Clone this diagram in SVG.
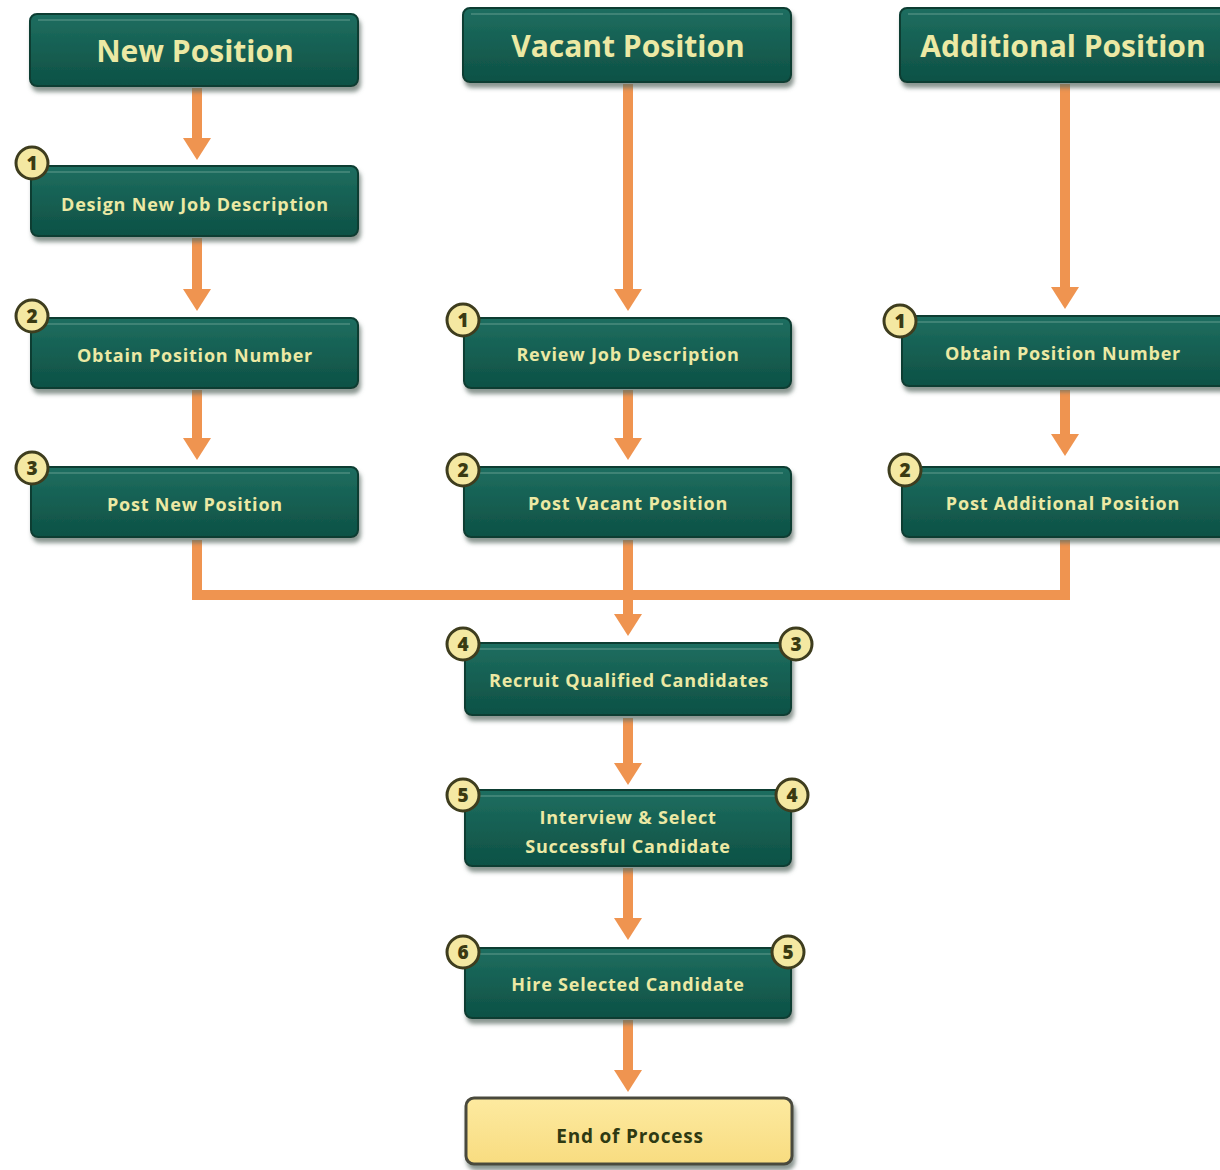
<svg xmlns="http://www.w3.org/2000/svg" width="1220" height="1170" viewBox="0 0 1220 1170">
  <defs>
    <linearGradient id="teal" x1="0" y1="0" x2="0" y2="1">
      <stop offset="0" stop-color="#1f6e60"/>
      <stop offset="0.5" stop-color="#155f52"/>
      <stop offset="1" stop-color="#0e5145"/>
    </linearGradient>
    <linearGradient id="cream" x1="0" y1="0" x2="0" y2="1">
      <stop offset="0" stop-color="#fdeaa0"/>
      <stop offset="1" stop-color="#f8dc80"/>
    </linearGradient>
    <filter id="shadow" x="-10%" y="-20%" width="120%" height="150%">
      <feDropShadow dx="2" dy="5" stdDeviation="2" flood-color="#5a6a64" flood-opacity="0.7"/>
    </filter>
    <!-- arrowhead drawn along +x so orient="auto" points it along the line -->
    <marker id="head" viewBox="0 0 22 28" refX="1" refY="14" markerWidth="22" markerHeight="28" markerUnits="userSpaceOnUse" orient="auto">
      <path d="M0,0 L22,14 L0,28 Z" fill="#ef9450"/>
    </marker>
  </defs>
  <style>
    .box { fill: url(#teal); stroke: #0a3d33; stroke-width: 2; filter: url(#shadow); }
    .end { fill: url(#cream); stroke: #4a4a3c; stroke-width: 3; filter: url(#shadow); }
    .hl { stroke: #4f8e80; stroke-width: 2; stroke-opacity: 0.7; }
    .hd { font-family: "Open Sans", "Liberation Sans", sans-serif; font-weight: 700; font-size: 30px; fill: #ece9a4; text-anchor: middle; }
    .lb { font-family: "Open Sans", "Liberation Sans", sans-serif; font-weight: 700; font-size: 18px; letter-spacing: 0.8px; fill: #ece9a4; text-anchor: middle; }
    .lbe { font-family: "Open Sans", "Liberation Sans", sans-serif; font-weight: 700; font-size: 19px; letter-spacing: 0.8px; fill: #2e3a12; text-anchor: middle; }
    .badge circle { fill: #f4e8a2; stroke: #3e3d1e; stroke-width: 3; }
    .badge text { font-family: "Open Sans", "Liberation Sans", sans-serif; font-weight: 800; font-size: 19px; fill: #3a3a12; text-anchor: middle; }
    .flow { fill: none; stroke: #ef9450; stroke-width: 10; }
    .arr { fill: none; stroke: #ef9450; stroke-width: 10; marker-end: url(#head); }
  </style>

  <!-- connectors: each arrow line stops where its arrowhead begins -->
  <g id="connectors">
    <line class="arr" x1="197" y1="88" x2="197" y2="139"/>
    <line class="arr" x1="197" y1="238" x2="197" y2="290"/>
    <line class="arr" x1="197" y1="390" x2="197" y2="439"/>
    <line class="arr" x1="628" y1="84" x2="628" y2="290"/>
    <line class="arr" x1="628" y1="390" x2="628" y2="439"/>
    <line class="arr" x1="1065" y1="84" x2="1065" y2="288"/>
    <line class="arr" x1="1065" y1="390" x2="1065" y2="435"/>
    <polyline class="flow" points="197,540 197,595 1065,595 1065,540"/>
    <line class="flow" x1="628" y1="540" x2="628" y2="600"/>
    <line class="arr" x1="628" y1="595" x2="628" y2="615"/>
    <line class="arr" x1="628" y1="718" x2="628" y2="764"/>
    <line class="arr" x1="628" y1="868" x2="628" y2="919"/>
    <line class="arr" x1="628" y1="1020" x2="628" y2="1071"/>
  </g>

  <!-- left column -->
  <g id="new-position">
    <rect class="box" x="30" y="14" width="328" height="72" rx="7"/>
    <line class="hl" x1="38" y1="20" x2="350" y2="20"/>
    <text class="hd" x="195" y="62">New Position</text>
  </g>
  <g id="design-job">
    <rect class="box" x="31" y="166" width="327" height="70" rx="7"/>
    <line class="hl" x1="39" y1="172" x2="350" y2="172"/>
    <text class="lb" x="195" y="211">Design New Job Description</text>
    <g class="badge"><circle cx="32" cy="163" r="16"/><text x="32" y="170">1</text></g>
  </g>
  <g id="obtain-number-new">
    <rect class="box" x="31" y="318" width="327" height="70" rx="7"/>
    <line class="hl" x1="39" y1="324" x2="350" y2="324"/>
    <text class="lb" x="195" y="362">Obtain Position Number</text>
    <g class="badge"><circle cx="32" cy="316" r="16"/><text x="32" y="323">2</text></g>
  </g>
  <g id="post-new">
    <rect class="box" x="31" y="467" width="327" height="70" rx="7"/>
    <line class="hl" x1="39" y1="473" x2="350" y2="473"/>
    <text class="lb" x="195" y="511">Post New Position</text>
    <g class="badge"><circle cx="32" cy="468" r="16"/><text x="32" y="475">3</text></g>
  </g>

  <!-- centre column -->
  <g id="vacant-position">
    <rect class="box" x="463" y="8" width="328" height="74" rx="7"/>
    <line class="hl" x1="471" y1="14" x2="783" y2="14"/>
    <text class="hd" x="628" y="57">Vacant Position</text>
  </g>
  <g id="review-job">
    <rect class="box" x="464" y="318" width="327" height="70" rx="7"/>
    <line class="hl" x1="472" y1="324" x2="783" y2="324"/>
    <text class="lb" x="628" y="361">Review Job Description</text>
    <g class="badge"><circle cx="463" cy="320" r="16"/><text x="463" y="327">1</text></g>
  </g>
  <g id="post-vacant">
    <rect class="box" x="464" y="467" width="327" height="70" rx="7"/>
    <line class="hl" x1="472" y1="473" x2="783" y2="473"/>
    <text class="lb" x="628" y="510">Post Vacant Position</text>
    <g class="badge"><circle cx="463" cy="470" r="16"/><text x="463" y="477">2</text></g>
  </g>

  <!-- right column -->
  <g id="additional-position">
    <rect class="box" x="900" y="8" width="332" height="74" rx="7"/>
    <line class="hl" x1="908" y1="14" x2="1220" y2="14"/>
    <text class="hd" x="1063" y="57">Additional Position</text>
  </g>
  <g id="obtain-number-add">
    <rect class="box" x="902" y="316" width="330" height="70" rx="7"/>
    <line class="hl" x1="910" y1="322" x2="1220" y2="322"/>
    <text class="lb" x="1063" y="360">Obtain Position Number</text>
    <g class="badge"><circle cx="900" cy="321" r="16"/><text x="900" y="328">1</text></g>
  </g>
  <g id="post-additional">
    <rect class="box" x="902" y="467" width="330" height="70" rx="7"/>
    <line class="hl" x1="910" y1="473" x2="1220" y2="473"/>
    <text class="lb" x="1063" y="510">Post Additional Position</text>
    <g class="badge"><circle cx="905" cy="470" r="16"/><text x="905" y="477">2</text></g>
  </g>

  <!-- shared steps -->
  <g id="recruit">
    <rect class="box" x="465" y="643" width="326" height="72" rx="7"/>
    <line class="hl" x1="473" y1="649" x2="783" y2="649"/>
    <text class="lb" x="629" y="687">Recruit Qualified Candidates</text>
    <g class="badge"><circle cx="463" cy="644" r="16"/><text x="463" y="651">4</text></g>
    <g class="badge"><circle cx="796" cy="644" r="16"/><text x="796" y="651">3</text></g>
  </g>
  <g id="interview">
    <rect class="box" x="465" y="790" width="326" height="76" rx="7"/>
    <line class="hl" x1="473" y1="796" x2="783" y2="796"/>
    <text class="lb" x="628" y="824">Interview &amp; Select</text>
    <text class="lb" x="628" y="853">Successful Candidate</text>
    <g class="badge"><circle cx="463" cy="795" r="16"/><text x="463" y="802">5</text></g>
    <g class="badge"><circle cx="792" cy="795" r="16"/><text x="792" y="802">4</text></g>
  </g>
  <g id="hire">
    <rect class="box" x="465" y="948" width="326" height="70" rx="7"/>
    <line class="hl" x1="473" y1="954" x2="783" y2="954"/>
    <text class="lb" x="628" y="991">Hire Selected Candidate</text>
    <g class="badge"><circle cx="463" cy="952" r="16"/><text x="463" y="959">6</text></g>
    <g class="badge"><circle cx="788" cy="952" r="16"/><text x="788" y="959">5</text></g>
  </g>
  <g id="end">
    <rect class="end" x="466" y="1098" width="326" height="66" rx="8"/>
    <text class="lbe" x="630" y="1143">End of Process</text>
  </g>
</svg>
